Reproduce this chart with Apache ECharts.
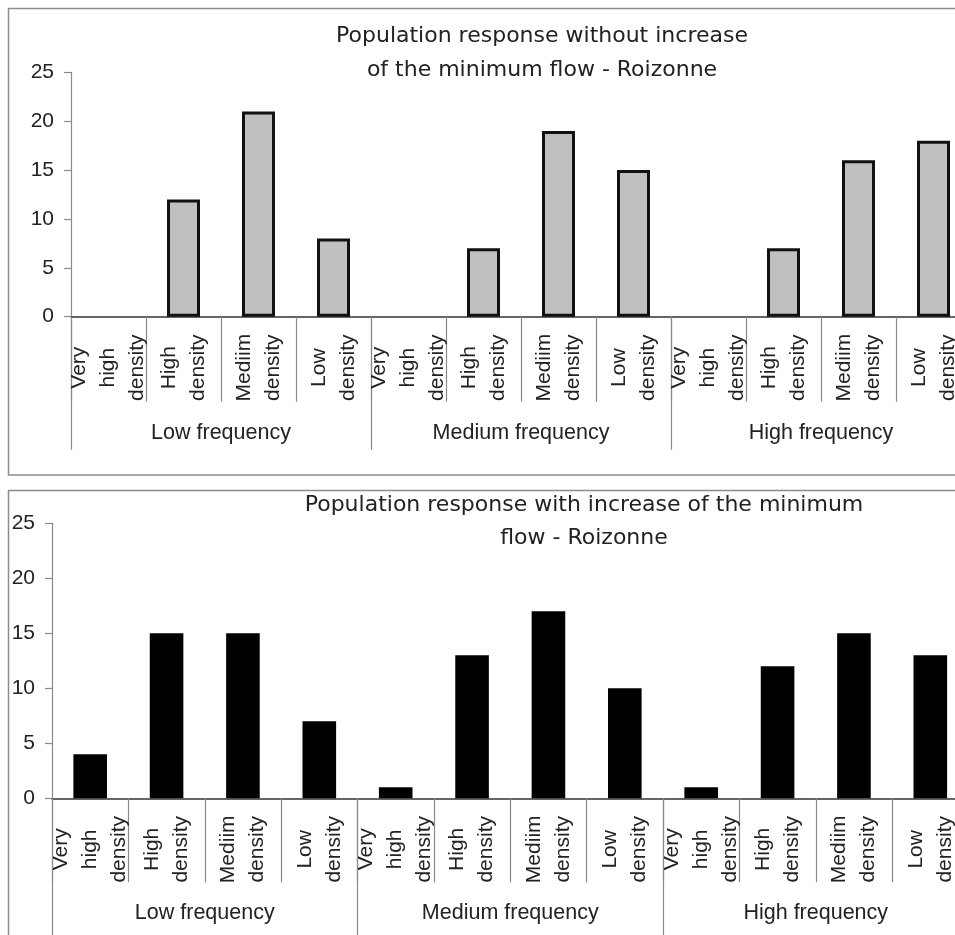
<!DOCTYPE html>
<html>
<head>
<meta charset="utf-8">
<script src="https://cdn.jsdelivr.net/npm/echarts@6/dist/echarts.min.js"></script>
<style>
html,body{margin:0;padding:0;background:#fff;}
#chart{width:955px;height:935px;}
</style>
</head>
<body>
<div id="chart"></div>
<script>
// ---- data ----
const densityLabels = ['Very\nhigh\ndensity', 'High\ndensity', 'Mediim\ndensity', 'Low\ndensity'];
const frequencyGroups = ['Low frequency', 'Medium frequency', 'High frequency'];
const categories = frequencyGroups.flatMap(() => densityLabels);
const withoutIncrease = [0, 12, 21, 8, 0, 7, 19, 15, 0, 7, 16, 18];
const withIncrease = [4, 15, 15, 7, 1, 13, 17, 10, 1, 12, 15, 13];
const titleTop = 'Population response without increase\nof the minimum flow - Roizonne';
const titleBottom = 'Population response with increase of the minimum\nflow - Roizonne';
const yMin = 0, yMax = 25, yStep = 5;

// ---- styling ----
const LABEL_FONT = 'Liberation Sans';
const TITLE_FONT = 'DejaVu Sans';
const TXT = '#222';
const GRAY = '#8a8a8a';

function catAxis(gridIndex, tickLen) {
  return {
    type: 'category', gridIndex, data: categories, position: 'bottom',
    boundaryGap: true,
    axisLine: { show: true, lineStyle: { color: '#333', width: 1.5 } },
    axisTick: { show: true, interval: 0, length: tickLen, lineStyle: { color: GRAY, width: 1.2 } },
    axisLabel: {
      interval: 0, rotate: 90, align: 'center', verticalAlign: 'middle',
      margin: 51, lineHeight: 29, fontSize: 21, fontFamily: LABEL_FONT, color: TXT,
      hideOverlap: false
    },
    splitLine: { show: false }
  };
}
function groupAxis(gridIndex, tickLen, margin) {
  return {
    type: 'category', gridIndex, data: frequencyGroups, position: 'bottom',
    boundaryGap: true,
    axisLine: { show: false },
    axisTick: { show: true, interval: 0, length: tickLen, lineStyle: { color: GRAY, width: 1.2 } },
    axisLabel: {
      interval: 0, margin: margin, verticalAlign: 'middle',
      fontSize: 21.5, fontFamily: LABEL_FONT, color: TXT
    },
    splitLine: { show: false }
  };
}
function valAxis(gridIndex) {
  return {
    type: 'value', gridIndex, min: yMin, max: yMax, interval: yStep,
    axisLine: { show: true, lineStyle: { color: GRAY, width: 1.2 } },
    axisTick: { show: true, length: 7, lineStyle: { color: GRAY, width: 1.2 } },
    axisLabel: { margin: 17, fontSize: 21, fontFamily: LABEL_FONT, color: TXT },
    splitLine: { show: false }
  };
}

const chart = echarts.init(document.getElementById('chart'), null, { renderer: 'canvas' });
chart.setOption({
  animation: false,
  backgroundColor: '#fff',
  grid: [
    { left: 71, top: 72.3, width: 900, height: 244.4, outerBoundsMode: 'none', containLabel: false },
    { left: 52, top: 523.3, width: 916.5, height: 275, outerBoundsMode: 'none', containLabel: false }
  ],
  xAxis: [
    catAxis(0, 85),
    groupAxis(0, 133, 116),
    catAxis(1, 84),
    groupAxis(1, 140, 115)
  ],
  yAxis: [valAxis(0), valAxis(1)],
  series: [
    {
      type: 'bar', xAxisIndex: 0, yAxisIndex: 0, barWidth: '44%',
      data: withoutIncrease.map(v => ({
        value: v,
        itemStyle: { color: '#c0c0c0', borderColor: '#111', borderWidth: v === 0 ? 0 : 3 }
      }))
    },
    {
      type: 'bar', xAxisIndex: 2, yAxisIndex: 1, barWidth: '44%',
      itemStyle: { color: '#000' },
      data: withIncrease
    }
  ],
  graphic: [
    { type: 'rect', silent: true, shape: { x: 8.5, y: 8.5, width: 970, height: 466.5 },
      style: { fill: null, stroke: '#8c8c8c', lineWidth: 1.5 }, z: -1 },
    { type: 'rect', silent: true, shape: { x: 8.5, y: 490.5, width: 970, height: 470 },
      style: { fill: null, stroke: '#8c8c8c', lineWidth: 1.5 }, z: -1 },
    { type: 'text', x: 542, y: 53, silent: true,
      style: { text: titleTop, align: 'center', verticalAlign: 'middle',
        font: '22px "' + TITLE_FONT + '"', lineHeight: 34, fill: TXT } },
    { type: 'text', x: 584, y: 521.5, silent: true,
      style: { text: titleBottom, align: 'center', verticalAlign: 'middle',
        font: '22px "' + TITLE_FONT + '"', lineHeight: 33, fill: TXT } }
  ]
});
</script>
</body>
</html>
